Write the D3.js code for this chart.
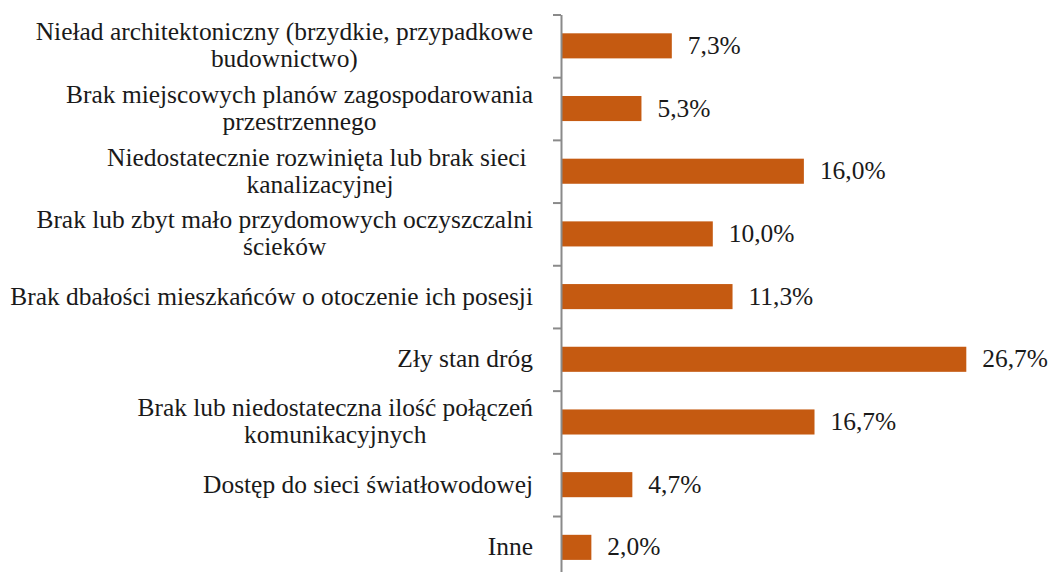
<!DOCTYPE html>
<html>
<head>
<meta charset="utf-8">
<script src="https://cdn.jsdelivr.net/npm/d3@7"></script>
<style>
  html, body { margin: 0; padding: 0; background: #fff; }
  svg { display: block; }
  text { fill: #1a1a1a; white-space: pre; }
</style>
</head>
<body>
<svg id="chart" width="1049" height="572"></svg>
<script>
// Problemy przestrzenne gminy – odsetek wskazań
const categories = [
  "Nieład architektoniczny (brzydkie, przypadkowe\nbudownictwo)",
  "Brak miejscowych planów zagospodarowania\nprzestrzennego",
  "Niedostatecznie rozwinięta lub brak sieci \nkanalizacyjnej",
  "Brak lub zbyt mało przydomowych oczyszczalni\nścieków",
  "Brak dbałości mieszkańców o otoczenie ich posesji",
  "Zły stan dróg",
  "Brak lub niedostateczna ilość połączeń\nkomunikacyjnych",
  "Dostęp do sieci światłowodowej",
  "Inne"
];
const values = [7.3, 5.3, 16.0, 10.0, 11.3, 26.7, 16.7, 4.7, 2.0];
const valueLabels = ["7,3%", "5,3%", "16,0%", "10,0%", "11,3%", "26,7%", "16,7%", "4,7%", "2,0%"];
const xMax = 30;

// pick the first installed serif face
const serifCandidates = ["Liberation Serif", "DejaVu Serif", "Noto Serif", "Tinos", "FreeSerif", "Times New Roman"];
const ctx = document.createElement("canvas").getContext("2d");
function widthIn(fam) { ctx.font = `40px ${fam}`; return ctx.measureText("Brak dbałości mieszkańców Wgil 1234").width; }
const monoW = widthIn("monospace");
const found = serifCandidates.find(f => widthIn(`"${f}", monospace`) !== monoW);
const fontFamily = found ? `"${found}", serif` : "serif";

const svg = d3.select("#chart");
const axisX = 561;
const plotTop = 14.5, plotBottom = 578.7;

// size the type so the longest single-line label spans 523px
const probe = svg.append("text").attr("font-family", fontFamily).attr("font-size", 24).text(categories[4]);
const fontSize = 24 * 523 / probe.node().getComputedTextLength();
probe.remove();

const x = d3.scaleLinear().domain([0, xMax]).range([axisX, axisX + xMax * 15.18]);
const y = d3.scaleBand().domain(categories).range([plotTop, plotBottom])
  .paddingInner(0.6).paddingOuter(0.3);
const yEdge = d3.scaleLinear().domain([0, categories.length]).range([plotTop, plotBottom]);

// bars
svg.append("g").selectAll("rect").data(categories).join("rect")
  .attr("x", x(0))
  .attr("y", d => y(d))
  .attr("width", (d, i) => x(values[i]) - x(0))
  .attr("height", y.bandwidth())
  .attr("fill", "#C55A11");

// vertical axis with ticks between categories
const axisG = svg.append("g")
  .attr("transform", `translate(${axisX},0)`)
  .call(d3.axisLeft(yEdge).tickValues(d3.range(categories.length + 1))
    .tickSize(8).tickSizeOuter(0).tickFormat(""));
axisG.selectAll("path, line").attr("stroke", "#8a8a8a").attr("stroke-width", 2);

// category labels: block right-aligned, lines centred within the block
const labelRight = 533;
const lineGap = 27;
categories.forEach((c, i) => {
  const lines = c.split("\n");
  const cy = y(c) + y.bandwidth() / 2;
  const g = svg.append("g");
  const ts = lines.map((ln, k) => g.append("text")
    .attr("font-family", fontFamily)
    .attr("font-size", fontSize)
    .attr("text-anchor", "middle")
    .attr("y", cy + 8 + (k - (lines.length - 1) / 2) * lineGap)
    .text(ln));
  const widths = ts.map(t => t.node().getComputedTextLength());
  const w = d3.max(widths);
  ts.forEach(t => t.attr("x", labelRight - w / 2));
});

// value labels
svg.append("g").selectAll("text").data(categories).join("text")
  .attr("font-family", fontFamily)
  .attr("font-size", fontSize)
  .attr("x", (d, i) => x(values[i]) + 16)
  .attr("y", d => y(d) + y.bandwidth() / 2 + 8)
  .text((d, i) => valueLabels[i]);
</script>
</body>
</html>
